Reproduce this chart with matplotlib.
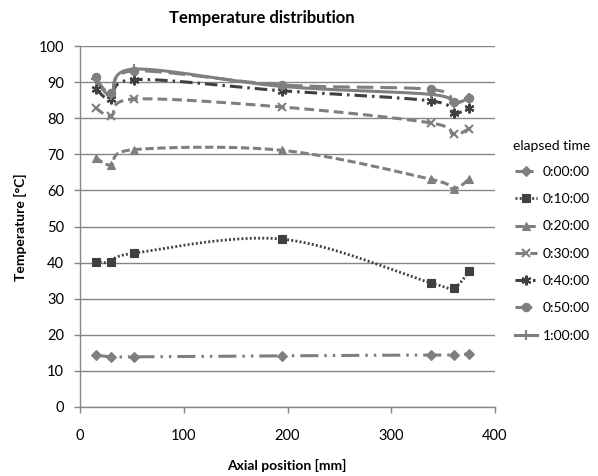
import numpy as np
import matplotlib
matplotlib.use("Agg")
import matplotlib.pyplot as plt
from matplotlib.lines import Line2D

plt.rcParams['font.family'] = ['Lato', 'DejaVu Sans']
plt.rcParams['lines.scale_dashes'] = False

positions = [15, 30, 52, 195, 338, 360, 375]
labels = ["0:00:00", "0:10:00", "0:20:00", "0:30:00", "0:40:00", "0:50:00", "1:00:00"]
t_0000 = [14.4, 13.9, 13.9, 14.2, 14.4, 14.4, 14.7]
t_0010 = [40.3, 40.1, 42.6, 46.5, 34.4, 33.0, 37.6]
t_0020 = [69.1, 67.1, 71.3, 71.1, 63.1, 60.5, 63.1]
t_0030 = [82.9, 80.7, 85.3, 83.1, 78.7, 75.5, 77.1]
t_0040 = [88.2, 85.3, 90.7, 87.6, 84.8, 81.5, 82.7]
t_0050 = [91.3, 86.9, 93.1, 89.2, 88.0, 84.4, 85.7]
t_0100 = [90.8, 86.5, 93.6, 88.8, 86.6, 84.2, 85.6]
series = [t_0000, t_0010, t_0020, t_0030, t_0040, t_0050, t_0100]

dark = '#404040'
mid = '#7f7f7f'
colors = [mid, dark, mid, mid, dark, mid, mid]
markers = ['D', 's', '^', 'x', (6, 2, 0), 'o', '+']
msizes = [5, 5.5, 6, 6, 7, 6, 7]
styles = [
    (0, (13, 4.3, 1.8, 4.3, 1.8, 4.3)),
    (0, (1.4, 1.6)),
    (0, (6, 2.6)),
    (0, (7, 3.6)),
    (0, (9, 3.6, 1.8, 3.6)),
    (0, (12, 5)),
    '-',
]
lws = [2.2, 2.0, 2.2, 2.2, 2.2, 2.2, 2.2]

fig = plt.figure(figsize=(5.98, 4.76), dpi=100)
W, H = 598, 476
ax = fig.add_axes([80 / W, 1 - 407 / H, (495 - 80) / W, (407 - 46) / H])
ax.set_xlim(0, 400)
ax.set_ylim(0, 100)


def smooth(xs, ys, n=40):
    pts = ax.transData.transform(np.column_stack([xs, ys]))
    P = np.vstack([pts[0], pts, pts[-1]])
    out = []
    for i in range(1, len(pts)):
        p0, p1, p2, p3 = P[i - 1], P[i], P[i + 1], P[i + 2]
        c1 = p1 + (p2 - p0) / 6
        c2 = p2 - (p3 - p1) / 6
        t = np.linspace(0, 1, n)[:, None]
        seg = (1 - t) ** 3 * p1 + 3 * (1 - t) ** 2 * t * c1 + 3 * (1 - t) * t ** 2 * c2 + t ** 3 * p2
        out.append(seg if i == 1 else seg[1:])
    out = np.vstack(out)
    d = ax.transData.inverted().transform(out)
    return d[:, 0], d[:, 1]


handles = []
for vals, lab, c, m, ms, ls, lw in zip(series, labels, colors, markers, msizes, styles, lws):
    sx, sy = smooth(positions, vals)
    ax.plot(sx, sy, color=c, linestyle=ls, linewidth=lw, zorder=3)
    mew = 1.5 if m in ('x', '+') or isinstance(m, tuple) else 0.8
    ax.plot(positions, vals, linestyle='none', marker=m, markersize=ms, color=c,
            markeredgecolor=c, markeredgewidth=mew, zorder=4)
    handles.append(Line2D([0], [0], color=c, linestyle=ls, linewidth=lw, marker=m,
                          markersize=ms, markeredgecolor=c, markeredgewidth=mew))

grid_c = '#868686'
ax.set_yticks(np.arange(0, 101, 10))
ax.set_xticks(np.arange(0, 401, 100))
ax.yaxis.grid(True, color=grid_c, linewidth=1.0)
ax.set_axisbelow(True)
for s in ['top', 'right']:
    ax.spines[s].set_visible(False)
for s in ['left', 'bottom']:
    ax.spines[s].set_color(grid_c)
    ax.spines[s].set_linewidth(1.0)
ax.tick_params(axis='both', colors=grid_c, length=4, width=1.0, labelcolor='black', labelsize=10.5)
ax.tick_params(axis='y', pad=7.5)
ax.tick_params(axis='x', pad=12)

fig.text(262 / W, 1 - 18 / H, 'Temperature distribution', ha='center', va='center',
         fontsize=12, fontweight='bold')
fig.text(287 / W, 1 - 465 / H, 'Axial position [mm]', ha='center', va='center',
         fontsize=10, fontweight='bold')
fig.text(20 / W, 1 - 227 / H, 'Temperature [°C]', ha='center', va='center',
         fontsize=10, fontweight='bold', rotation=90)

leg = fig.legend(handles, labels, loc='upper right', bbox_to_anchor=(597 / W, 1 - 133 / H),
                 frameon=False, title='elapsed time', fontsize=10, title_fontsize=10,
                 handlelength=1.6, handletextpad=0.4, labelspacing=1.1, borderpad=0,
                 numpoints=1)
leg._legend_box.align = 'right'
leg._legend_box.sep = 10

fig.savefig('out.png', dpi=100)
